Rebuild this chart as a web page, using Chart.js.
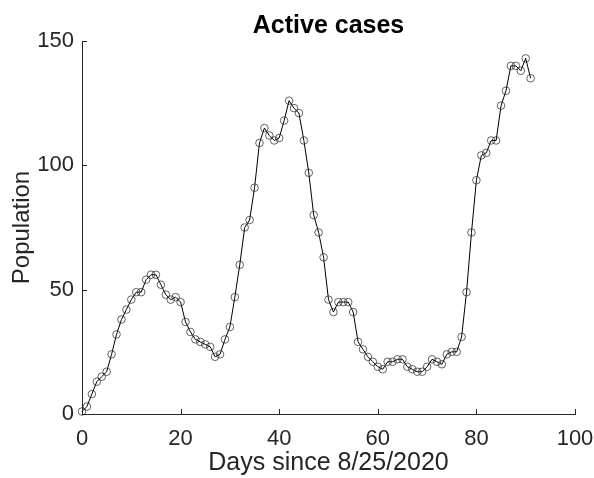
<!DOCTYPE html>
<html>
<head>
<meta charset="utf-8">
<script src="https://cdn.jsdelivr.net/npm/chart.js@4"></script>
<style>
  body { margin: 0; background: #fff; }
  #wrap { width: 594px; height: 478px; }
</style>
</head>
<body>
<div id="wrap"><canvas id="activeChart" width="594" height="478"></canvas></div>
<script>
// --- Data ---
const days = Array.from({ length: 92 }, (_, i) => i);
const activeCases = [
  1, 3, 8, 13, 15, 17, 24, 32, 38, 42,
  46, 49, 49, 54, 56, 56, 52, 48, 46, 47,
  45, 37, 33, 30, 29, 28, 27, 23, 24, 30,
  35, 47, 60, 75, 78, 91, 109, 115, 112, 110,
  111, 118, 126, 123, 121, 110, 97, 80, 73, 63,
  46, 41, 45, 45, 45, 41, 29, 26, 23, 21,
  19, 18, 21, 21, 22, 22, 19, 18, 17, 17,
  19, 22, 21, 20, 24, 25, 25, 31, 49, 73,
  94, 104, 105, 110, 110, 124, 130, 140, 140, 138,
  143, 135
];
const xTicks = [0, 20, 40, 60, 80, 100];
const yTicks = [0, 50, 100, 150];
const chartTitle = 'Active cases';

const axisGrey = '#262626';
const fontFamily = '"Liberation Sans", Arial, Helvetica, sans-serif';

// MATLAB style: ticks pointing inward + title centred over the axes
const matlabAxes = {
  id: 'matlabAxes',
  afterDraw(chart) {
    const { ctx, chartArea, scales } = chart;
    const len = 5;
    ctx.save();
    ctx.strokeStyle = axisGrey;
    ctx.lineWidth = 1;
    ctx.beginPath();
    scales.x.ticks.forEach(t => {
      const px = Math.round(scales.x.getPixelForValue(t.value)) + 0.5;
      ctx.moveTo(px, chartArea.bottom);
      ctx.lineTo(px, chartArea.bottom - len);
    });
    scales.y.ticks.forEach(t => {
      const py = Math.round(scales.y.getPixelForValue(t.value)) + 0.5;
      ctx.moveTo(chartArea.left, py);
      ctx.lineTo(chartArea.left + len, py);
    });
    ctx.stroke();

    ctx.fillStyle = '#000';
    ctx.font = 'bold 25px ' + fontFamily;
    ctx.textAlign = 'center';
    ctx.textBaseline = 'alphabetic';
    ctx.fillText(chartTitle, (chartArea.left + chartArea.right) / 2, chartArea.top - 8);
    ctx.restore();
  }
};

const ctx = document.getElementById('activeChart').getContext('2d');

const activeChart = new Chart(ctx, {
  type: 'line',
  data: {
    datasets: [{
      label: chartTitle,
      data: days.map((d, i) => ({ x: d, y: activeCases[i] })),
      borderColor: '#000',
      borderWidth: 1,
      tension: 0,
      pointStyle: 'circle',
      pointRadius: 3.8,
      pointBorderWidth: 0.7,
      pointBorderColor: '#222',
      pointBackgroundColor: 'rgba(0,0,0,0)',
      clip: false
    }]
  },
  options: {
    responsive: false,
    animation: false,
    layout: { padding: { top: 41, right: 0, bottom: 0, left: 0 } },
    plugins: {
      legend: { display: false },
      tooltip: { enabled: false },
      title: { display: false }
    },
    scales: {
      x: {
        type: 'linear',
        min: 0,
        max: 100,
        afterBuildTicks: axis => { axis.ticks = xTicks.map(v => ({ value: v })); },
        afterFit: axis => {
          axis.height = 64;
          axis.paddingLeft = 0;
          axis.paddingRight = 19;
        },
        grid: { display: false, drawTicks: false },
        border: { display: true, color: axisGrey, width: 1 },
        ticks: {
          color: axisGrey,
          padding: 12,
          maxRotation: 0,
          font: { family: fontFamily, size: 22 }
        },
        title: {
          display: true,
          text: 'Days since 8/25/2020',
          color: axisGrey,
          font: { family: fontFamily, size: 25 },
          padding: { top: 0, bottom: 0 }
        }
      },
      y: {
        type: 'linear',
        min: 0,
        max: 150,
        afterBuildTicks: axis => { axis.ticks = yTicks.map(v => ({ value: v })); },
        afterFit: axis => { axis.width = 82; },
        grid: { display: false, drawTicks: false },
        border: { display: true, color: axisGrey, width: 1 },
        ticks: {
          color: axisGrey,
          padding: 8,
          font: { family: fontFamily, size: 22 }
        },
        title: {
          display: true,
          text: 'Population',
          color: axisGrey,
          font: { family: fontFamily, size: 24 },
          padding: { top: 8, bottom: 0 }
        }
      }
    }
  },
  plugins: [matlabAxes]
});
</script>
</body>
</html>
